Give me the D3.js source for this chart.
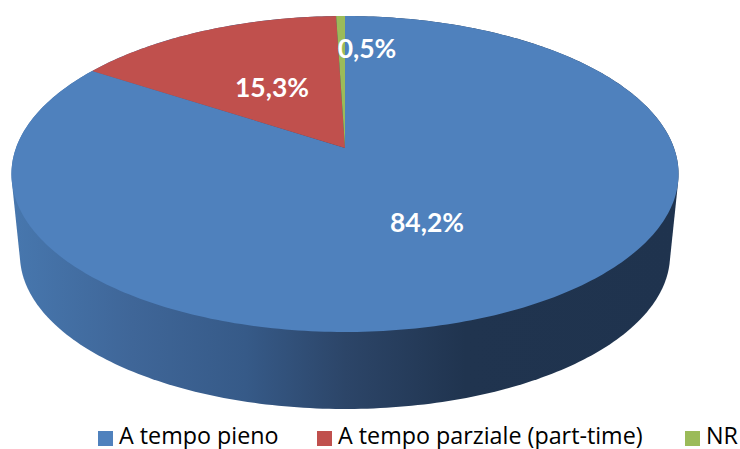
<!DOCTYPE html>
<html>
<head>
<meta charset="utf-8">
<script src="https://cdn.jsdelivr.net/npm/d3@7"></script>
<style>
  html, body { margin: 0; padding: 0; background: #fff; }
  svg { display: block; }
  text { font-family: Lato, "Open Sans", sans-serif; }
  .legend text { font-family: "Open Sans", sans-serif; }
</style>
</head>
<body>
<svg id="drawing_region"></svg>
<script>
const categories = ["A tempo pieno", "A tempo parziale (part-time)", "NR"];
const values = [84.2, 15.3, 0.5];
const valueLabels = ["84,2%", "15,3%", "0,5%"];
const colors = ["#4f81bd", "#c0504d", "#9bbb59"];

const width = 740, height = 449;
const cx = 345;

// the disc is seen in perspective, so the hub is not the middle of the ellipse
const perspective = 0.1646;
const topFace = { hubY: 148, rx: 329, ry: 153.7 };
const bottomFace = { hubY: 229.7, rx: 320.6, ry: 149.8 };

const project = ( face, angle ) => {
    const u = Math.sin( angle ), v = Math.cos( angle );
    const w = 1 + perspective * v;
    return [ cx + face.rx * u / w, face.hubY - face.ry * v / w ];
};

const sample = ( face, a0, a1 ) => {
    const n = Math.max( 2, Math.ceil( ( a1 - a0 ) * 60 ) );
    return d3.range( n + 1 ).map( i => project( face, a0 + ( a1 - a0 ) * i / n ) );
};

const svg = d3.select( '#drawing_region' )
    .attr( 'width', width )
    .attr( 'height', height );

// side wall shading runs left to right
const gradient = svg.append( 'defs' ).append( 'linearGradient' )
    .attr( 'id', 'side' )
    .attr( 'gradientUnits', 'userSpaceOnUse' )
    .attr( 'x1', 12 ).attr( 'x2', 679 ).attr( 'y1', 0 ).attr( 'y2', 0 );
[ [0, '#4777ae'], [0.18, '#3f6698'], [0.35, '#365a88'], [0.5, '#2c4568'], [0.68, '#20344f'], [1, '#1f334e'] ]
    .forEach( s => gradient.append( 'stop' ).attr( 'offset', s[0] ).attr( 'stop-color', s[1] ) );

const full = [ 0, 2 * Math.PI ];
const hull = d3.polygonHull( sample( topFace, ...full ).concat( sample( bottomFace, ...full ) ) );
const line = d3.line();

svg.append( 'path' )
    .attr( 'd', line( hull ) + 'Z' )
    .attr( 'fill', 'url(#side)' );

const slices = d3.pie().sort( null )( values );

svg.selectAll( 'path.slice' )
    .data( slices )
    .join( 'path' )
    .attr( 'class', 'slice' )
    .attr( 'd', d => line( [ [cx, topFace.hubY] ].concat( sample( topFace, d.startAngle, d.endAngle ) ) ) + 'Z' )
    .attr( 'fill', d => colors[d.index] );

// data labels were placed by hand in the original
const labelPos = [ [427, 232], [272, 97], [367, 58] ];
svg.selectAll( 'text.value' )
    .data( slices )
    .join( 'text' )
    .attr( 'class', 'value' )
    .attr( 'x', d => labelPos[d.index][0] )
    .attr( 'y', d => labelPos[d.index][1] )
    .attr( 'text-anchor', 'middle' )
    .attr( 'font-size', 26.5 )
    .attr( 'font-weight', 700 )
    .attr( 'fill', '#fff' )
    .text( d => valueLabels[d.index] );

// legend
const legendX = [98, 317, 685];
const legend = svg.selectAll( 'g.legend' )
    .data( categories )
    .join( 'g' )
    .attr( 'class', 'legend' )
    .attr( 'transform', ( d, i ) => `translate(${legendX[i]},431)` );
legend.append( 'rect' )
    .attr( 'width', 15 )
    .attr( 'height', 15 )
    .attr( 'fill', ( d, i ) => colors[i] );
legend.append( 'text' )
    .attr( 'x', 21 )
    .attr( 'y', 12.5 )
    .attr( 'font-size', 23.3 )
    .attr( 'fill', '#000' )
    .text( d => d );
</script>
</body>
</html>
